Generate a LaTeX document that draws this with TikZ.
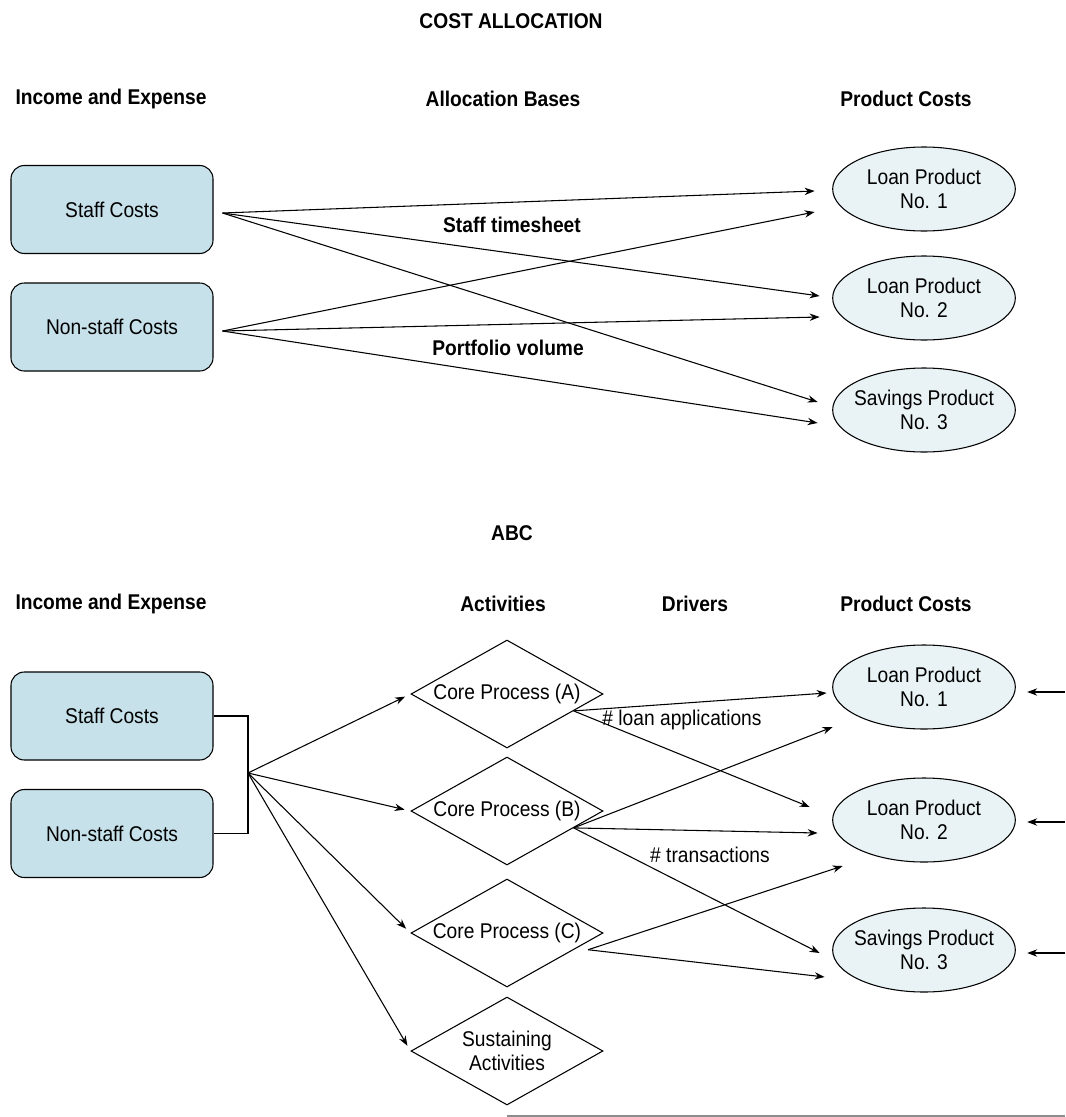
\documentclass[tikz,border=0pt]{standalone}
\usepackage{fontspec}
\setmainfont{Liberation Sans}[FakeStretch=0.9]
\usepackage{tikz}
\usetikzlibrary{arrows.meta, positioning, calc, shapes.geometric}
\definecolor{boxfill}{HTML}{C6E1EA}
\definecolor{prodfill}{HTML}{E9F3F6}
\definecolor{rulegray}{HTML}{8C8C8C}

\begin{document}
\begin{tikzpicture}[
      x=0.75pt, y=-0.75pt,
      >={Stealth[length=7.5pt, width=5.5pt]},
      line width=0.8pt,
      every node/.style={font=\fontsize{16}{17.5}\selectfont},
      hdr/.style={font=\fontsize{16}{17.5}\selectfont\bfseries},
      costbox/.style={draw, rounded corners=10pt, fill=boxfill, minimum width=151.5pt, minimum height=66pt},
      prod/.style={draw, ellipse, fill=prodfill, minimum width=137pt, minimum height=63pt, align=center, inner xsep=-5pt, inner ysep=1pt},
      act/.style={draw, diamond, shape aspect=1.78, minimum width=144pt, minimum height=81pt, align=center, inner sep=1pt},
      flow/.style={->}]
    \useasboundingbox (0,0) rectangle (1065,1117);

    % cost allocation
    \node[hdr] (titlea) at (511,21) {COST ALLOCATION};
    \foreach \n/\x/\t in {ie/111/Income and Expense, ab/503/Allocation Bases, pc/906/Product Costs} {
      \node[hdr] (h\n a) at (\x,99) {\t};
    }
    \node[costbox] (stca) at (112,209.5) {Staff Costs};
    \node[costbox] (nsca) at (112,327) {Non-staff Costs};
    \node[prod] (pa1) at (924,189) {Loan Product\\No. 1};
    \node[prod] (pa2) at (924,298) {Loan Product\\No. 2};
    \node[prod] (pa3) at (924,410) {Savings Product\\No. 3};
    \coordinate (outs) at ([shift={(9,3.5)}]stca.east);
    \coordinate (outn) at ([shift={(9,4)}]nsca.east);
    \draw[flow] (outs) -- ([shift={(-17.5,2)}]pa1.west);
    \draw[flow] (outn) -- ([shift={(-17.5,23)}]pa1.west);
    \draw[flow] (outs) -- ([shift={(-12.5,-2)}]pa2.west);
    \draw[flow] (outn) -- ([shift={(-12.5,19)}]pa2.west);
    \draw[flow] (outs) -- ([shift={(-14.5,-8)}]pa3.west);
    \draw[flow] (outn) -- ([shift={(-14.5,13)}]pa3.west);
    \node[hdr] (basea) at (512,225) {Staff timesheet};
    \node[hdr] (baseb) at (508,348) {Portfolio volume};

    % abc
    \node[hdr] (titleb) at (512,533) {ABC};
    \foreach \n/\x/\t in {ie/111/Income and Expense, ac/503/Activities, dr/695/Drivers, pc/906/Product Costs} {
      \node[hdr] (h\n b) at (\x,604) {\t};
    }
    \node[costbox] (stcb) at (112,716) {Staff Costs};
    \node[costbox] (nscb) at (112,833.5) {Non-staff Costs};
    \coordinate (fan) at (248,773);
    \draw (stcb.east) -| (fan) |- (nscb.east);
    \foreach \n/\y/\t in {a/694/Core Process (A), b/811/Core Process (B), c/933/Core Process (C), s/1051/{Sustaining\\Activities}} {
      \node[act] (cp\n) at (507,\y) {\t};
      \draw[flow, shorten >=4.5pt] (fan) -- (cp\n.west);
    }
    \node[prod] (pb1) at (924,687) {Loan Product\\No. 1};
    \node[prod] (pb2) at (924,820) {Loan Product\\No. 2};
    \node[prod] (pb3) at (924,950) {Savings Product\\No. 3};
    \coordinate (outa) at ($(cpa.east)!0.31!(cpa.south)$);
    \coordinate (outb) at ($(cpb.east)!0.31!(cpb.south)$);
    \coordinate (outc) at ([yshift=-6pt]$(cpc.east)!0.16!(cpc.south)$);
    \draw[flow] (outa) -- ([shift={(-5.5,6)}]pb1.west);
    \draw[flow] (outb) -- ([shift={(0.5,40)}]pb1.west);
    \draw[flow] (outa) -- ([shift={(-22.5,-13)}]pb2.west);
    \draw[flow] (outb) -- ([shift={(-14.5,13)}]pb2.west);
    \draw[flow] (outc) -- ([shift={(10.5,46)}]pb2.west);
    \draw[flow] (outb) -- ([shift={(-12.5,3)}]pb3.west);
    \draw[flow] (outc) -- ([shift={(-7.5,27)}]pb3.west);
    \node (drva) at (682,720) {\# loan applications};
    \node (drvb) at (710,855) {\# transactions};
    \foreach \n/\y in {1/692, 2/822, 3/953} {
      \coordinate (in\n) at (1065,\y);
      \draw[flow, shorten >=8.5pt] (in\n) -- (in\n -| pb\n.east);
    }
    \draw[rulegray, line width=1.5pt] (507,1116) -- (1065,1116);
  \end{tikzpicture}
\end{document}
